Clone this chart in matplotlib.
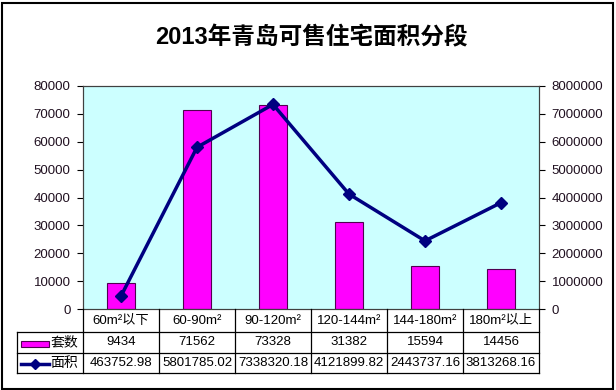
import matplotlib
matplotlib.use("Agg")
import matplotlib.pyplot as plt
import matplotlib.patches as mpatches
import matplotlib.transforms as mtransforms
from matplotlib.lines import Line2D
from matplotlib.ticker import MultipleLocator, FuncFormatter

plt.rcParams['font.family'] = ['Liberation Sans', 'Noto Sans CJK SC']

# data
categories = ['60m²以下', '60-90m²', '90-120m²', '120-144m²', '144-180m²', '180m²以上']
units = [9434, 71562, 73328, 31382, 15594, 14456]
areas = [463752.98, 5801785.02, 7338320.18, 4121899.82, 2443737.16, 3813268.16]
unit_labels = ['9434', '71562', '73328', '31382', '15594', '14456']
area_labels = ['463752.98', '5801785.02', '7338320.18', '4121899.82', '2443737.16', '3813268.16']

W, H = 616, 390
fig = plt.figure(figsize=(W / 100, H / 100), dpi=100)

# outer frame of the chart
fig.patches.append(mpatches.Rectangle((1.5 / W, 1.5 / H), 611 / W, 386 / H,
                                      transform=fig.transFigure, fill=False,
                                      edgecolor='black', linewidth=1.5))

left, right, top, bottom = 83, 539, 86, 309
ax = fig.add_axes([left / W, 1 - bottom / H, (right - left) / W, (bottom - top) / H])
ax.set_facecolor('#CCFFFF')

x = list(range(len(categories)))
ax.bar(x, units, width=0.38, color='#FF00FF', edgecolor='#500050', linewidth=0.8, zorder=2)
ax.set_xlim(-0.5, len(categories) - 0.5)
ax.set_ylim(0, 80000)
ax.yaxis.set_major_locator(MultipleLocator(10000))
ax.set_xticks([])

ax2 = ax.twinx()
ax2.plot(x, areas, color='#000080', linewidth=2.5, marker='D', markersize=6, zorder=3)
ax2.set_ylim(0, 8000000)
ax2.yaxis.set_major_locator(MultipleLocator(1000000))

plain = FuncFormatter(lambda v, p: f'{v:.0f}')
for a in (ax, ax2):
    a.yaxis.set_major_formatter(plain)
    a.tick_params(axis='y', direction='out', length=4, width=0.8, labelsize=9.5,
                  labelcolor='#201020', pad=5)
    for s in a.spines.values():
        s.set_color('#404040')
        s.set_linewidth(0.8)
ax2.tick_params(axis='y', pad=5)

fig.text(311 / W, 1 - 38 / H, '2013年青岛可售住宅面积分段', ha='center', va='center',
         fontsize=17, fontweight='bold')

# data table under the plot: x in data units, y in pixels from top
trans = mtransforms.blended_transform_factory(ax.transData, fig.transFigure)
ftrans = fig.transFigure
def fy(py):
    return 1 - py / H

rows_y = [309, 331.5, 352.5, 373]
lw = 0.9
# horizontal lines
fig.add_artist(Line2D([left / W, right / W], [fy(331.5)] * 2, color='black', lw=lw, transform=ftrans))
for py in rows_y[2:]:
    fig.add_artist(Line2D([17 / W, right / W], [fy(py)] * 2, color='black', lw=lw, transform=ftrans))
fig.add_artist(Line2D([17 / W, left / W], [fy(331.5)] * 2, color='black', lw=lw, transform=ftrans))
# vertical lines
fig.add_artist(Line2D([17 / W] * 2, [fy(331.5), fy(373)], color='black', lw=lw, transform=ftrans))
for i in range(len(categories) + 1):
    xi = i - 0.5
    fig.add_artist(Line2D([xi, xi], [fy(309), fy(373)], color='black', lw=lw, transform=trans))

for i, cat in enumerate(categories):
    fig.text(i, fy(320.5), cat, transform=trans, ha='center', va='center', fontsize=9.5)
    fig.text(i, fy(342), unit_labels[i], transform=trans, ha='center', va='center', fontsize=9.5)
    fig.text(i, fy(363), area_labels[i], transform=trans, ha='center', va='center', fontsize=9.5)

# legend keys in the row-label column
fig.patches.append(mpatches.Rectangle((21 / W, fy(347)), 28 / W, 6 / H, transform=ftrans,
                                      facecolor='#FF00FF', edgecolor='#500050', linewidth=0.8))
fig.text(64 / W, fy(342), '套数', ha='center', va='center', fontsize=10)
fig.add_artist(Line2D([21 / W, 49 / W], [fy(364)] * 2, color='#000080', lw=2.5, transform=ftrans))
fig.add_artist(Line2D([35 / W], [fy(364)], color='#000080', marker='D', markersize=5, transform=ftrans))
fig.text(64 / W, fy(363), '面积', ha='center', va='center', fontsize=10)

fig.savefig('out.png', dpi=100)
